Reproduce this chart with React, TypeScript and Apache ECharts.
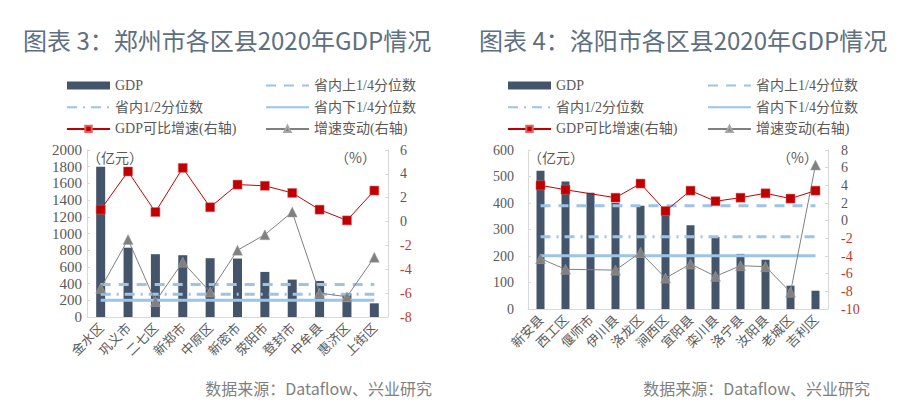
import React, { useEffect, useRef } from "react";
import * as echarts from "echarts";

// ---- 郑州 (chart 3) ----
const zzCategories = ["金水区", "巩义市", "二七区", "新郑市", "中原区", "新密市", "荥阳市", "登封市", "中牟县", "惠济区", "上街区"];
const zzGdp = [1800, 830, 752, 740, 704, 700, 540, 448, 432, 284, 164];
const zzGrowth = [1.0, 4.2, 0.8, 4.5, 1.2, 3.1, 3.0, 2.4, 1.0, 0.1, 2.6];
const zzChange = [-5.6, -1.5, -6.7, -3.4, -5.9, -2.4, -1.1, 0.8, -6.0, -6.3, -3.0];
const zzUpperQ = [390, 390, 390, 390, 390, 390, 390, 390, 390, 390, 390];
const zzMedian = [273, 273, 273, 273, 273, 273, 273, 273, 273, 273, 273];
const zzLowerQ = [201, 201, 201, 201, 201, 201, 201, 201, 201, 201, 201];

// ---- 洛阳 (chart 4) ----
const lyCategories = ["新安县", "西工区", "偃师市", "伊川县", "洛龙区", "涧西区", "宜阳县", "栾川县", "洛宁县", "汝阳县", "老城区", "吉利区"];
const lyGdp = [522, 481, 439, 400, 390, 365, 316, 272, 208, 186, 88, 69];
const lyGrowth = [4.0, 3.5, null, 2.6, 4.2, 1.1, 3.4, 2.2, 2.6, 3.1, 2.5, 3.4];
const lyChange = [-4.3, -5.5, null, -5.6, -3.6, -6.5, -4.9, -6.3, -5.1, -5.2, -8.1, 6.3];
const lyUpperQ = [390, 390, 390, 390, 390, 390, 390, 390, 390, 390, 390, 390];
const lyMedian = [273, 273, 273, 273, 273, 273, 273, 273, 273, 273, 273, 273];
const lyLowerQ = [201, 201, 201, 201, 201, 201, 201, 201, 201, 201, 201, 201];

const titles = ["图表 3：郑州市各区县2020年GDP情况", "图表 4：洛阳市各区县2020年GDP情况"];
const sourceText = "数据来源：Dataflow、兴业研究";
const nameGdp = "GDP";
const nameUpper = "省内上1/4分位数";
const nameMedian = "省内1/2分位数";
const nameLower = "省内下1/4分位数";
const nameGrowth = "GDP可比增速(右轴)";
const nameChange = "增速变动(右轴)";

const BAR = "#44546a";
const QCOL = "#9dc3e6";
const RED = "#c00000";
const GRAY = "#808080";
const AXIS = "#d9d9d9";
const TXT = "#595959";
const NEG = "#c0392b";
const SERIF = "'Liberation Serif', 'Noto Sans CJK SC', serif";
const CJK = "'Noto Sans CJK SC', sans-serif";

function seriesFor(idx: number, gdp: any[], up: any[], med: any[], low: any[], gr: any[], ch: any[], barW: number) {
  const xi = idx;
  const yl = idx * 2;
  const yr = idx * 2 + 1;
  return [
    { name: nameGdp, type: "bar", xAxisIndex: xi, yAxisIndex: yl, data: gdp, barWidth: barW, itemStyle: { color: BAR } },
    { name: nameUpper, type: "line", xAxisIndex: xi, yAxisIndex: yl, data: up, symbol: "none", lineStyle: { color: QCOL, width: 3, type: [10, 8] }, itemStyle: { color: QCOL } },
    { name: nameMedian, type: "line", xAxisIndex: xi, yAxisIndex: yl, data: med, symbol: "none", lineStyle: { color: QCOL, width: 3, type: [10, 6, 2, 6] }, itemStyle: { color: QCOL } },
    { name: nameLower, type: "line", xAxisIndex: xi, yAxisIndex: yl, data: low, symbol: "none", lineStyle: { color: QCOL, width: 3 }, itemStyle: { color: QCOL } },
    { name: nameChange, type: "line", xAxisIndex: xi, yAxisIndex: yr, data: ch, connectNulls: true, symbol: "triangle", symbolSize: 10, lineStyle: { color: GRAY, width: 1 }, itemStyle: { color: GRAY, borderColor: "#a6a6a6", borderWidth: 0.5 } },
    { name: nameGrowth, type: "line", xAxisIndex: xi, yAxisIndex: yr, data: gr, connectNulls: true, symbol: "rect", symbolSize: 9, lineStyle: { color: RED, width: 1 }, itemStyle: { color: RED, borderColor: "#e06060", borderWidth: 0.5 } },
  ];
}

function xAxisFor(idx: number, cats: string[]) {
  return {
    type: "category",
    gridIndex: idx,
    data: cats,
    axisLine: { lineStyle: { color: AXIS } },
    axisTick: { inside: true, length: 4, lineStyle: { color: AXIS } },
    axisLabel: { rotate: 45, margin: 8, interval: 0, fontSize: 13, color: TXT, fontFamily: CJK },
  };
}

function leftY(idx: number, max: number, interval: number, fontSize: number, margin: number) {
  return {
    type: "value",
    gridIndex: idx,
    position: "left",
    min: 0,
    max,
    interval,
    name: "（亿元）",
    nameLocation: "end",
    nameGap: -7,
    nameTextStyle: { align: "left", verticalAlign: "middle", fontSize: 14, color: TXT, fontFamily: CJK },
    splitLine: { show: false },
    axisLine: { show: true, lineStyle: { color: AXIS } },
    axisTick: { show: true, inside: true, length: 3, lineStyle: { color: AXIS } },
    axisLabel: { fontSize, margin, color: TXT, fontFamily: SERIF, formatter: (v: any) => String(v) },
  };
}

function rightY(idx: number, min: number, max: number, fontSize: number, margin: number, padRight: number) {
  return {
    type: "value",
    gridIndex: idx,
    position: "right",
    min,
    max,
    interval: 2,
    name: "（%）",
    nameLocation: "end",
    nameGap: -7,
    nameTextStyle: { align: "right", verticalAlign: "middle", fontSize: 14, color: TXT, fontFamily: CJK, padding: [0, padRight, 0, 0] },
    splitLine: { show: false },
    axisLine: { show: true, lineStyle: { color: AXIS } },
    axisTick: { show: true, inside: true, length: 3, lineStyle: { color: AXIS } },
    axisLabel: { fontSize, margin, fontFamily: SERIF, formatter: (v: any) => String(v), color: (v: any) => (Number(v) < 0 ? NEG : TXT) },
  };
}

const noSym = { opacity: 0, color: "rgba(0,0,0,0)", borderWidth: 0 };

function legendCol(left: number, names: any[]) {
  return {
    orient: "vertical",
    left,
    top: 73.5,
    itemWidth: 43,
    itemHeight: 8,
    itemGap: 7.7,
    selectedMode: false,
    textStyle: { fontSize: 14, lineHeight: 14, color: TXT, fontFamily: SERIF },
    data: names,
  };
}

export default function App() {
  const ref = useRef<HTMLDivElement>(null);
  useEffect(() => {
    if (!ref.current) return;
    const chart = echarts.init(ref.current, undefined, { renderer: "svg" });
    const option: any = {
      animation: false,
      backgroundColor: "#ffffff",
      title: [
        { text: titles[0], left: 23, top: 27, padding: 0, textStyle: { fontSize: 24, fontWeight: "normal", color: "#5d6f80", fontFamily: CJK } },
        { text: titles[1], left: 479, top: 27, padding: 0, textStyle: { fontSize: 24, fontWeight: "normal", color: "#5d6f80", fontFamily: CJK } },
        { text: sourceText, right: 468, top: 380, padding: 0, textStyle: { fontSize: 16, fontWeight: "normal", color: "#7f7f7f", fontFamily: CJK } },
        { text: sourceText, right: 30, top: 380, padding: 0, textStyle: { fontSize: 16, fontWeight: "normal", color: "#7f7f7f", fontFamily: CJK } },
      ],
      legend: [
        legendCol(61, [{ name: nameGdp, icon: "rect" }, { name: nameMedian, itemStyle: noSym }, nameGrowth]),
        legendCol(260, [{ name: nameUpper, itemStyle: noSym }, { name: nameLower, itemStyle: noSym }, nameChange]),
        legendCol(502, [{ name: nameGdp, icon: "rect" }, { name: nameMedian, itemStyle: noSym }, nameGrowth]),
        legendCol(702, [{ name: nameUpper, itemStyle: noSym }, { name: nameLower, itemStyle: noSym }, nameChange]),
      ],
      grid: [
        { left: 87, top: 150, width: 301, height: 167, containLabel: false },
        { left: 528, top: 150, width: 300, height: 159, containLabel: false },
      ],
      xAxis: [xAxisFor(0, zzCategories), xAxisFor(1, lyCategories)],
      yAxis: [
        leftY(0, 2000, 200, 15, 5),
        rightY(0, -8, 6, 14, 12, 12),
        leftY(1, 600, 100, 14, 14),
        rightY(1, -10, 8, 14, 13, 10),
      ],
      series: [
        ...seriesFor(0, zzGdp, zzUpperQ, zzMedian, zzLowerQ, zzGrowth, zzChange, 9),
        ...seriesFor(1, lyGdp, lyUpperQ, lyMedian, lyLowerQ, lyGrowth, lyChange, 8),
      ],
    };
    chart.setOption(option);
    return () => chart.dispose();
  }, []);
  return <div ref={ref} style={{ position: "absolute", left: 0, top: 0, width: 900, height: 413 }} />;
}
